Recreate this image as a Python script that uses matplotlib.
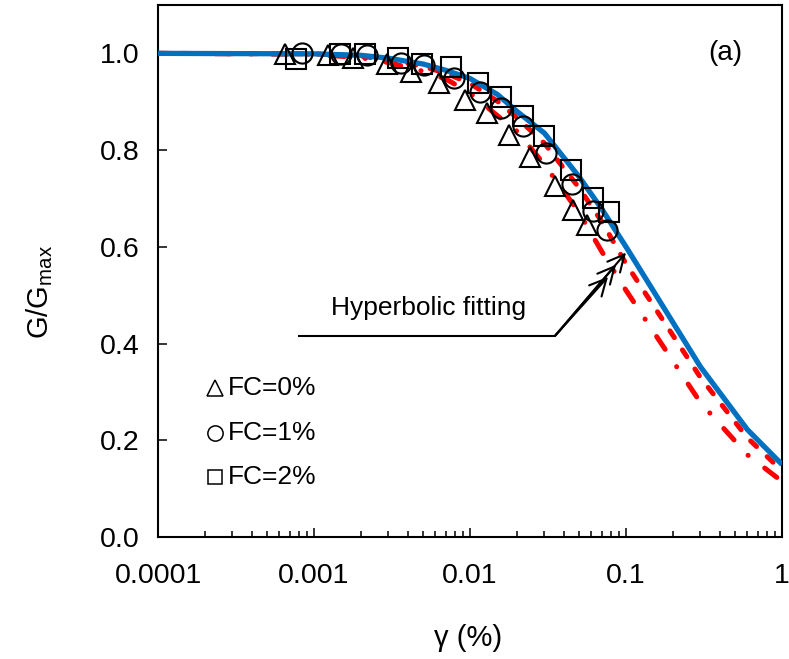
import matplotlib
matplotlib.use('Agg')
import matplotlib.pyplot as plt
from matplotlib.ticker import FixedLocator, NullFormatter

plt.rcParams['font.family'] = ['Liberation Sans', 'DejaVu Sans']
plt.rcParams['mathtext.fontset'] = 'custom'
plt.rcParams['mathtext.rm'] = 'Liberation Sans'
plt.rcParams['lines.scale_dashes'] = False

# ---- data ----
gamma_fc0 = [0.00065, 0.00123, 0.00178, 0.00294, 0.00419, 0.0063, 0.00935, 0.0129,
             0.0177, 0.0243, 0.0351, 0.046, 0.0566]
g_fc0 = [0.999, 0.997, 0.990, 0.978, 0.962, 0.938, 0.904, 0.876, 0.832, 0.786, 0.725, 0.676, 0.645]

gamma_fc1 = [0.00084, 0.0015, 0.0022, 0.0036, 0.0051, 0.0079, 0.0116, 0.0157,
             0.0219, 0.0309, 0.0449, 0.0615, 0.075]
g_fc1 = [1.000, 0.998, 0.997, 0.981, 0.975, 0.950, 0.920, 0.888, 0.849, 0.795, 0.729, 0.674, 0.635]

gamma_fc2 = [0.00077, 0.00147, 0.00212, 0.00345, 0.00492, 0.0076, 0.0112, 0.0157,
             0.0219, 0.0296, 0.0444, 0.061, 0.0773]
g_fc2 = [0.988, 0.999, 0.999, 0.990, 0.977, 0.971, 0.939, 0.910, 0.870, 0.830, 0.758, 0.700, 0.671]

gamma_fit = [0.0001, 0.001, 0.002, 0.003, 0.005, 0.007, 0.01, 0.015, 0.02, 0.03,
             0.05, 0.07, 0.1, 0.3, 0.6, 1.0]
fit_fc2 = [1.000, 0.999, 0.996, 0.990, 0.978, 0.965, 0.948, 0.915, 0.880, 0.835,
           0.745, 0.678, 0.600, 0.352, 0.222, 0.150]
fit_fc1 = [1.000, 0.999, 0.994, 0.987, 0.973, 0.959, 0.938, 0.901, 0.867, 0.814,
           0.722, 0.652, 0.565, 0.330, 0.205, 0.137]
fit_fc0 = [1.000, 0.998, 0.991, 0.981, 0.963, 0.947, 0.918, 0.871, 0.839, 0.770,
           0.671, 0.590, 0.510, 0.278, 0.170, 0.115]

x_ticks = [0.0001, 0.001, 0.01, 0.1, 1]
x_ticklabels = ['0.0001', '0.001', '0.01', '0.1', '1']
y_ticks = [0.0, 0.2, 0.4, 0.6, 0.8, 1.0]
y_ticklabels = ['0.0', '0.2', '0.4', '0.6', '0.8', '1.0']

legend_labels = ['FC=0%', 'FC=1%', 'FC=2%']
legend_markers = ['^', 'o', 's']

# ---- figure ----
W, H = 789, 659
fig = plt.figure(figsize=(W / 100, H / 100), dpi=100)
ax = fig.add_axes([158 / W, 1 - 537 / H, (782 - 158) / W, (537 - 5) / H])

red = '#FF0000'
blue = '#0070C0'
ax.plot(gamma_fit, fit_fc0, color=red, lw=3.6, dashes=(11.0, 15.0, 0.1, 15.0),
        dash_capstyle='round', zorder=2)
ax.plot(gamma_fit, fit_fc1, color=red, lw=3.6, dashes=(5.8, 10.6),
        dash_capstyle='round', zorder=2)
ax.plot(gamma_fit, fit_fc2, color=blue, lw=3.8, solid_capstyle='butt', zorder=3)

mk = dict(ls='none', mfc='none', mec='black', mew=1.5, ms=14.5, zorder=4)
ax.plot(gamma_fc0, g_fc0, marker='^', **mk)
ax.plot(gamma_fc1, g_fc1, marker='o', **mk)
ax.plot(gamma_fc2, g_fc2, marker='s', **mk)

ax.set_xscale('log')
ax.set_xlim(1e-4, 1)
ax.set_ylim(0, 1.1)
ax.xaxis.set_major_locator(FixedLocator(x_ticks))
ax.set_xticklabels(x_ticklabels)
minors = [m * 10.0 ** e for e in range(-4, 0) for m in range(2, 10)]
ax.xaxis.set_minor_locator(FixedLocator(minors))
ax.xaxis.set_minor_formatter(NullFormatter())
ax.set_yticks(y_ticks)
ax.set_yticklabels(y_ticklabels)

for s in ax.spines.values():
    s.set_linewidth(1.5)
    s.set_color('black')
ax.tick_params(axis='both', which='major', direction='in', length=6.5, width=1.1,
               labelsize=20.5, colors='black')
ax.tick_params(axis='x', which='major', pad=19)
ax.tick_params(axis='y', which='major', pad=13)
ax.tick_params(axis='x', which='minor', direction='in', length=4.6, width=1.1)
ax.tick_params(top=False, right=False, which='both')

fig.text(40 / W, 1 - 292 / H, r'G/G$_{\mathregular{max}}$', rotation=90,
         ha='center', va='center', fontsize=21)
fig.text(468 / W, 1 - 638 / H, 'γ (%)', ha='center', va='center', fontsize=21)

ax.text(0.909, 0.910, '(a)', transform=ax.transAxes, ha='center', va='center',
        fontsize=20)

# legend (manual)
leg_y = [0.280, 0.1955, 0.113]
for lab, m, yy in zip(legend_labels, legend_markers, leg_y):
    ax.plot([0.091], [yy], marker=m, ms=11 if m != 's' else 10.5, mfc='none',
            mec='black', mew=1.1, ls='none', transform=ax.transAxes, clip_on=False)
    ax.text(0.112, yy, lab, transform=ax.transAxes, ha='left', va='center',
            fontsize=19)

# annotation
ax.text(0.434, 0.4305, 'Hyperbolic fitting', transform=ax.transAxes,
        ha='center', va='center', fontsize=19)
origin = (0.0351, 0.416)
ax.plot([0.00079, origin[0]], [origin[1], origin[1]], color='black', lw=1.5,
        solid_capstyle='butt', zorder=5)
tips = [(0.0767, 0.538), (0.0863, 0.563), (0.100, 0.588)]
for t in tips:
    ax.annotate('', xy=t, xytext=origin,
                arrowprops=dict(arrowstyle='->,head_length=0.6,head_width=0.3',
                                lw=1.5, color='black', shrinkA=0, shrinkB=0,
                                mutation_scale=20), zorder=5)

fig.savefig('out.png', dpi=100, facecolor='white')
